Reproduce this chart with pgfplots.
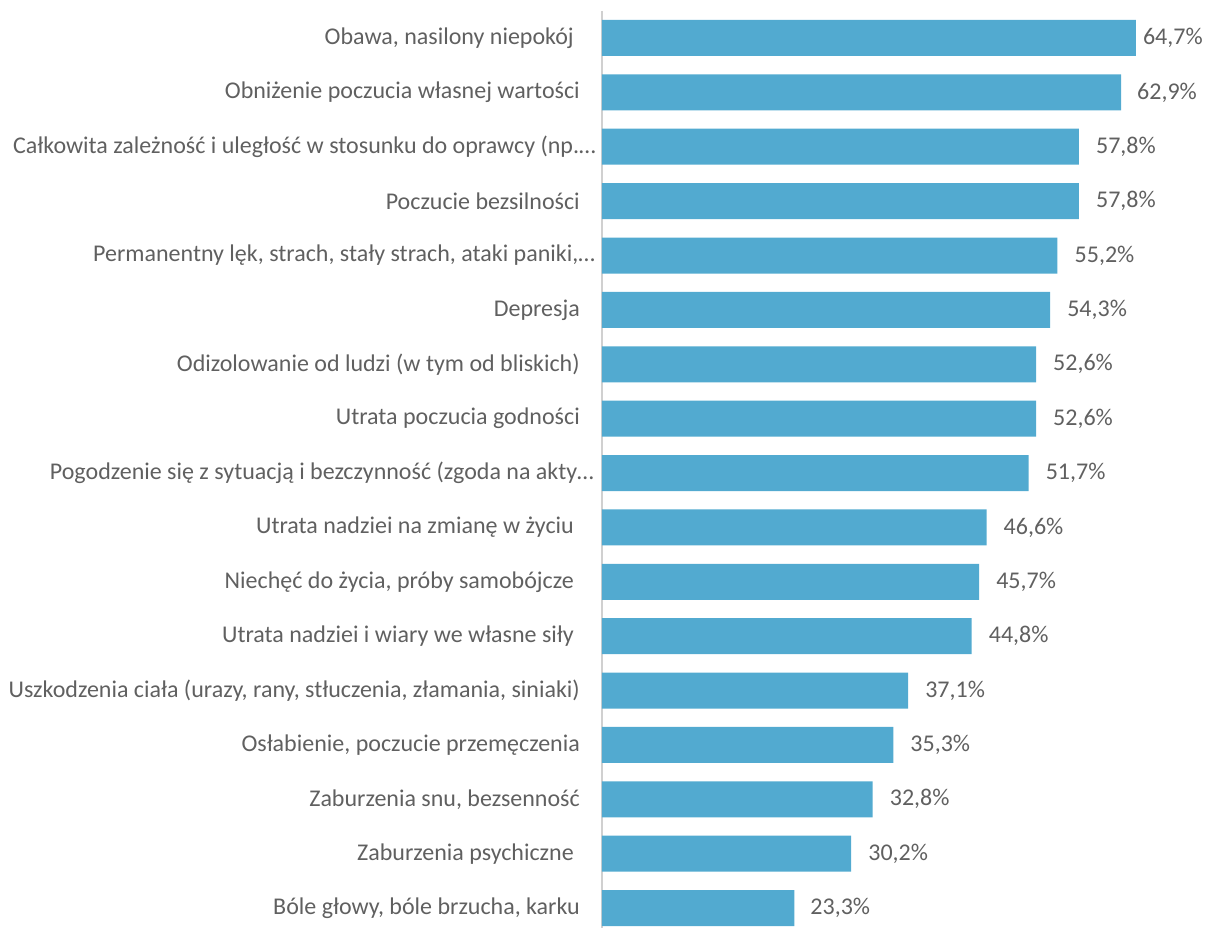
\documentclass[border=0pt]{standalone}
\usepackage{pgfplots}
\usepackage{pgfplotstable}
\pgfplotsset{compat=1.18}
\usepackage{fontspec}
\setmainfont{Carlito}
\definecolor{barblue}{RGB}{82,170,208}
\definecolor{textgray}{RGB}{96,96,96}
\definecolor{axisgray}{RGB}{208,208,208}

% value, row, gap of the value label from the bar end (pt)
\pgfplotstableread{
val  row  gap
64.7 0    7
62.9 1    16
57.8 2    17
57.8 3    17
55.2 4    17
54.3 5    17
52.6 6    17
52.6 7    17
51.7 8    17
46.6 9    17
45.7 10   17
44.8 11   17
37.1 12   17
35.3 13   17
32.8 14   17
30.2 15   17
23.3 16   16
}\symptoms

\begin{document}
\begin{tikzpicture}
\useasboundingbox (-602pt,8.2pt) rectangle (604pt,935.2pt);
\begin{axis}[
  xbar,
  scale only axis,
  width=604pt, height=924.4pt,
  xmin=0, xmax=73.2,
  ymin=-0.5, ymax=16.5,
  y dir=reverse,
  bar width=36pt,
  bar shift=0pt,
  axis x line=none,
  axis y line*=left,
  y axis line style={draw=axisgray, line width=1.3pt, -},
  major tick length=0pt,
  ytick={0,...,16},
  yticklabels={
    {Obawa, nasilony niepokój\kern6pt},
    {Obniżenie poczucia własnej wartości},
    {Całkowita zależność i uległość w stosunku do oprawcy (np.…\kern-16pt},
    {Poczucie bezsilności},
    {Permanentny lęk, strach, stały strach, ataki paniki,…\kern-15pt},
    {Depresja},
    {Odizolowanie od ludzi (w tym od bliskich)},
    {Utrata poczucia godności},
    {Pogodzenie się z sytuacją i bezczynność (zgoda na akty…\kern-14pt},
    {Utrata nadziei na zmianę w życiu\kern6pt},
    {Niechęć do życia, próby samobójcze\kern6pt},
    {Utrata nadziei i wiary we własne siły\kern6pt},
    {Uszkodzenia ciała (urazy, rany, stłuczenia, złamania, siniaki)},
    {Osłabienie, poczucie przemęczenia},
    {Zaburzenia snu, bezsenność},
    {Zaburzenia psychiczne\kern6pt},
    {Bóle głowy, bóle brzucha, karku}
  },
  yticklabel style={anchor=east, inner sep=0pt, xshift=-22pt,
    font=\fontsize{24}{28}\selectfont, text=textgray},
  point meta=x,
  visualization depends on={\thisrow{gap} \as \labelgap},
  nodes near coords={\pgfmathprintnumber[fixed,fixed zerofill,precision=1,use comma]{\pgfplotspointmeta}\%},
  nodes near coords style={anchor=west, inner sep=0pt, xshift=\labelgap pt,
    font=\fontsize{24}{28}\selectfont, text=textgray,
    /pgf/number format/assume math mode=true},
  clip=false,
]
\addplot[fill=barblue, draw=none] table[x=val, y=row] {\symptoms};
\end{axis}
\end{tikzpicture}
\end{document}
